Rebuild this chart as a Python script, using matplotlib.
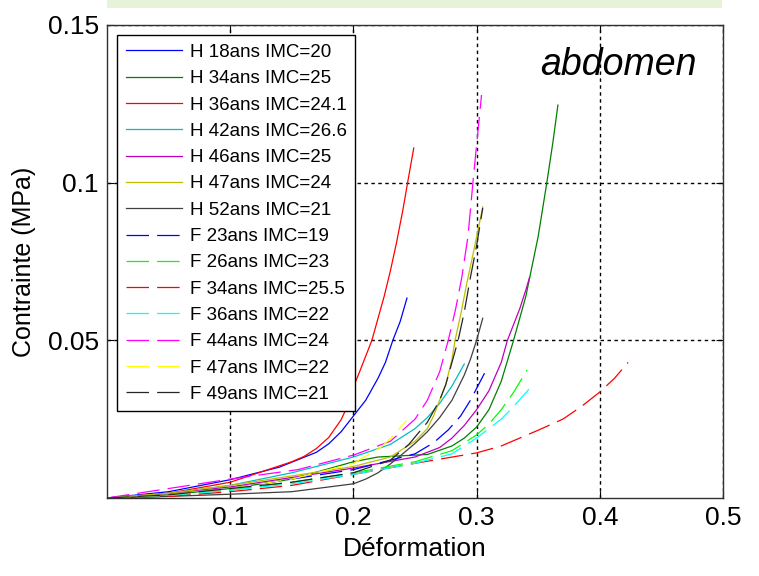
import matplotlib
matplotlib.use('Agg')
import matplotlib.pyplot as plt
from matplotlib.patches import Rectangle

plt.rcParams['font.family'] = ['Liberation Sans', 'DejaVu Sans']

# courbes contrainte / déformation
h18_x = [0, 0.05, 0.1, 0.14, 0.17, 0.18, 0.19, 0.2, 0.21, 0.22, 0.226, 0.232, 0.238, 0.2435]
h18_y = [0, 0.002, 0.0058, 0.0098, 0.0145, 0.0172, 0.021, 0.026, 0.031, 0.038, 0.043, 0.05, 0.056, 0.0634]
h34_x = [0, 0.05, 0.1, 0.15, 0.2, 0.22, 0.26, 0.28, 0.29, 0.3, 0.31, 0.32, 0.33, 0.34, 0.35, 0.357, 0.362, 0.366]
h34_y = [0, 0.001, 0.003, 0.006, 0.0115, 0.013, 0.0138, 0.0165, 0.019, 0.0225, 0.028, 0.037, 0.05, 0.064, 0.083, 0.1, 0.113, 0.1246]
h36_x = [0, 0.05, 0.1, 0.15, 0.16, 0.17, 0.18, 0.19, 0.195, 0.2, 0.205, 0.21, 0.215, 0.22, 0.225, 0.23, 0.235, 0.24, 0.244, 0.249]
h36_y = [0, 0.0015, 0.005, 0.0115, 0.0132, 0.0157, 0.0192, 0.0248, 0.029, 0.0352, 0.04, 0.045, 0.05, 0.057, 0.064, 0.072, 0.081, 0.091, 0.1, 0.111]
h42_x = [0, 0.05, 0.1, 0.15, 0.2, 0.23, 0.25, 0.26, 0.27, 0.28, 0.29]
h42_y = [0, 0.0015, 0.004, 0.008, 0.013, 0.017, 0.022, 0.0255, 0.03, 0.0355, 0.0425]
h46_x = [0, 0.05, 0.1, 0.15, 0.2, 0.25, 0.27, 0.28, 0.29, 0.3, 0.31, 0.32, 0.325, 0.33, 0.335, 0.34, 0.343]
h46_y = [0, 0.0015, 0.0035, 0.0065, 0.0095, 0.013, 0.016, 0.019, 0.023, 0.028, 0.034, 0.043, 0.05, 0.055, 0.06, 0.066, 0.07]
h47_x = [0, 0.05, 0.1, 0.15, 0.2, 0.23, 0.25, 0.26, 0.265, 0.27, 0.275, 0.28, 0.2825, 0.287, 0.292, 0.298, 0.305]
h47_y = [0, 0.0015, 0.004, 0.007, 0.01, 0.013, 0.018, 0.022, 0.026, 0.031, 0.036, 0.044, 0.05, 0.058, 0.068, 0.079, 0.0923]
h52_x = [0, 0.05, 0.1, 0.15, 0.2, 0.21, 0.22, 0.23, 0.24, 0.25, 0.26, 0.27, 0.28, 0.29, 0.295, 0.3, 0.305]
h52_y = [0, 0.0005, 0.0012, 0.002, 0.0045, 0.006, 0.008, 0.0108, 0.014, 0.0173, 0.021, 0.0255, 0.031, 0.039, 0.044, 0.05, 0.057]
f23_x = [0, 0.05, 0.1, 0.15, 0.2, 0.25, 0.265, 0.277, 0.287, 0.295, 0.307]
f23_y = [0, 0.001, 0.003, 0.006, 0.009, 0.014, 0.0175, 0.0216, 0.026, 0.031, 0.04]
f26_x = [0, 0.05, 0.1, 0.15, 0.2, 0.25, 0.28, 0.3, 0.31, 0.32, 0.33, 0.341]
f26_y = [0, 0.0008, 0.0025, 0.005, 0.008, 0.0115, 0.015, 0.02, 0.0235, 0.028, 0.0335, 0.0406]
f34_x = [0, 0.05, 0.1, 0.15, 0.2, 0.25, 0.3, 0.32, 0.335, 0.35, 0.37, 0.385, 0.4, 0.412, 0.423]
f34_y = [0, 0.0005, 0.002, 0.004, 0.0075, 0.011, 0.0143, 0.0165, 0.019, 0.0215, 0.025, 0.029, 0.0336, 0.038, 0.043]
f36_x = [0, 0.05, 0.1, 0.15, 0.2, 0.25, 0.28, 0.3, 0.32, 0.33, 0.3425]
f36_y = [0, 0.0008, 0.0025, 0.0045, 0.0075, 0.011, 0.014, 0.019, 0.025, 0.029, 0.0345]
f44_x = [0, 0.05, 0.1, 0.155, 0.2, 0.23, 0.25, 0.26, 0.27, 0.277, 0.283, 0.288, 0.293, 0.297, 0.3, 0.304]
f44_y = [0, 0.003, 0.006, 0.009, 0.0136, 0.018, 0.025, 0.031, 0.04, 0.05, 0.06, 0.07, 0.083, 0.1, 0.112, 0.1278]
f47_x = [0, 0.05, 0.1, 0.15, 0.2, 0.222, 0.233, 0.243]
f47_y = [0, 0.001, 0.003, 0.006, 0.011, 0.016, 0.02, 0.0245]
f49_x = [0, 0.05, 0.1, 0.15, 0.2, 0.23, 0.245, 0.26, 0.27, 0.275, 0.28, 0.285, 0.29, 0.295, 0.3, 0.305]
f49_y = [0, 0.001, 0.003, 0.005, 0.008, 0.012, 0.017, 0.024, 0.031, 0.036, 0.043, 0.05, 0.059, 0.07, 0.08, 0.092]

fig = plt.figure(figsize=(7.59, 5.76), dpi=100)
ax = fig.add_axes([107/759, 1 - 498/576, 616/759, 473/576])

# bandeau vert en haut
fig.patches.append(Rectangle((107/759, 1 - 8/576), 615/759, 8/576, transform=fig.transFigure,
                             facecolor='#e6f2da', edgecolor='none'))

tiret = (0, (18, 6.5))
ax.plot(h18_x, h18_y, color='#0000ff', lw=0.9, label='H 18ans IMC=20')
ax.plot(h34_x, h34_y, color='#008000', lw=0.9, label='H 34ans IMC=25')
ax.plot(h36_x, h36_y, color='#ff0000', lw=0.9, label='H 36ans IMC=24.1')
ax.plot(h42_x, h42_y, color='#00bfbf', lw=0.9, label='H 42ans IMC=26.6')
ax.plot(h46_x, h46_y, color='#bf00bf', lw=0.9, label='H 46ans IMC=25')
ax.plot(h47_x, h47_y, color='#bfbf00', lw=0.9, label='H 47ans IMC=24')
ax.plot(h52_x, h52_y, color='#404040', lw=0.9, label='H 52ans IMC=21')
ax.plot(f23_x, f23_y, color='#0000ff', lw=0.9, ls=tiret, label='F 23ans IMC=19')
ax.plot(f26_x, f26_y, color='#00ff00', lw=0.9, ls=tiret, label='F 26ans IMC=23')
ax.plot(f34_x, f34_y, color='#ff0000', lw=0.9, ls=tiret, label='F 34ans IMC=25.5')
ax.plot(f36_x, f36_y, color='#00ffff', lw=0.9, ls=tiret, label='F 36ans IMC=22')
ax.plot(f44_x, f44_y, color='#ff00ff', lw=0.9, ls=tiret, label='F 44ans IMC=24')
ax.plot(f47_x, f47_y, color='#ffff00', lw=0.9, ls=tiret, label='F 47ans IMC=22')
ax.plot(f49_x, f49_y, color='#262626', lw=0.9, ls=tiret, label='F 49ans IMC=21')

ax.set_xlim(0, 0.5)
ax.set_ylim(0, 0.15)
ax.set_xticks([0.1, 0.2, 0.3, 0.4, 0.5])
ax.set_xticklabels(['0.1', '0.2', '0.3', '0.4', '0.5'])
ax.set_yticks([0.05, 0.1, 0.15])
ax.set_yticklabels(['0.05', '0.1', '0.15'])
ax.tick_params(direction='in', length=5, width=0.8, top=True, right=True, labelsize=19, pad=6)
ax.grid(True, color='black', ls=(0, (2.5, 2.5)), lw=1.0)
for s in ax.spines.values():
    s.set_color('#303030')
    s.set_linewidth(1.0)

ax.set_xlabel('Déformation', fontsize=19, labelpad=5)
ax.set_ylabel('Contrainte (MPa)', fontsize=18, labelpad=8)

ax.text(0.83, 0.915, 'abdomen', transform=ax.transAxes, fontsize=27, style='italic',
        ha='center', va='center')

leg = ax.legend(loc='upper left', fontsize=13.5, handlelength=3.0, handletextpad=0.4,
                labelspacing=0.49, borderaxespad=0.55, borderpad=0.45, fancybox=False,
                framealpha=1)
leg.get_frame().set_edgecolor('black')
leg.get_frame().set_linewidth(1.0)

fig.savefig('out.png', dpi=100)
